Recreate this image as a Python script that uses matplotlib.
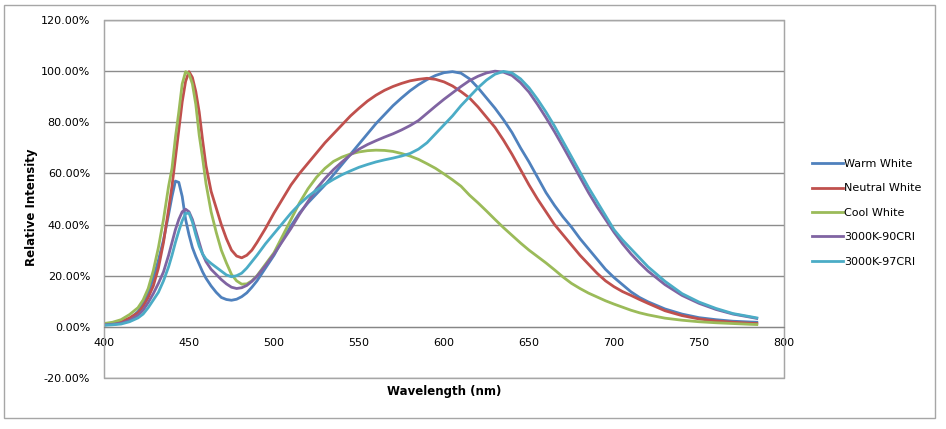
import matplotlib
matplotlib.use("Agg")
import matplotlib.pyplot as plt
from matplotlib.patches import Rectangle
from matplotlib.ticker import FuncFormatter, MultipleLocator

# wavelength grid (nm) - finer around the blue pump peak
wavelength = [400, 405, 410, 415, 420, 423, 426, 429, 432, 435, 438, 440, 442, 444, 446, 448,
              450, 452, 454, 456, 458, 460, 463, 466, 469, 472, 475, 478, 481, 484, 487, 490,
              495, 500, 505, 510, 515, 520, 525, 530, 535, 540, 545, 550, 555, 560, 565, 570,
              575, 580, 585, 590, 595, 600, 605, 610, 615, 620, 625, 630, 635, 640, 645, 650,
              655, 660, 665, 670, 675, 680, 685, 690, 695, 700, 705, 710, 715, 720,
              730, 740, 750, 760, 770, 780, 784]

# relative intensity (%)
warm_white = [0.8, 1.0, 1.5, 3.0, 6.0, 9.0, 13, 19, 26, 34, 44, 51, 57, 56.5, 51, 42,
              36, 31, 27.5, 24.5, 21.5, 19, 16, 13.5, 11.5, 10.7, 10.4, 10.8, 11.8, 13.3, 15.5, 18,
              23, 28, 34, 39.5, 44.5, 48.5, 52, 55.5, 59.5, 63.5, 67.5, 71.5, 75.5, 79.5, 83, 86.5,
              89.5, 92.3, 94.7, 96.7, 98.3, 99.4, 99.8, 99.2, 97, 93.5, 89.5, 85.5, 81, 76, 70, 64.5,
              58.5, 52.5, 47.5, 43, 39, 34.5, 30.5, 26.5, 22.5, 19.3, 16.5, 13.7, 11.5, 9.8,
              7.0, 5.0, 3.6, 2.8, 2.2, 1.9, 1.8]

neutral_white = [1.0, 1.3, 2.0, 3.5, 5.5, 8, 11.5, 16, 23, 33, 46, 55, 66, 77, 88, 96,
                 99.8, 97.5, 92, 84, 73, 63, 53, 46.5, 40, 34.5, 30, 27.7, 27, 28, 30, 33,
                 38.5, 44.5, 50, 55.5, 60, 64, 68, 72, 75.5, 79, 82.5, 85.5, 88.3, 90.6, 92.5, 94,
                 95.2, 96.2, 96.8, 97.2, 96.8, 95.8, 94.2, 92, 89.5, 86, 82, 78, 73, 67.5, 61.5, 55.5,
                 50, 45, 40, 36, 32, 28, 24.5, 21, 18, 15.7, 13.8, 12.3, 10.7, 9.2,
                 6.3, 4.4, 3.1, 2.3, 1.8, 1.4, 1.3]

cool_white = [1.3, 1.8, 2.8, 4.8, 7.5, 10.5, 15, 22, 31, 42, 55, 62, 74, 84, 95, 99.8,
              99, 95, 87, 75, 66, 56, 45, 37, 30, 25, 20.5, 18, 16.7, 16.8, 18, 20,
              24.5, 29, 35.5, 42, 48.5, 54, 58.5, 62, 64.7, 66.4, 67.6, 68.4, 68.9, 69.1, 69, 68.6,
              67.8, 66.8, 65.5, 63.8, 62, 59.8, 57.5, 55, 51.5, 48.5, 45.3, 42, 38.8, 35.8, 32.8, 30,
              27.5, 25, 22.3, 19.5, 17, 15, 13.2, 11.7, 10.2, 8.9, 7.7, 6.5, 5.5, 4.7,
              3.4, 2.6, 2.0, 1.6, 1.3, 1.0, 0.9]

cri90_3000k = [0.8, 1.0, 1.4, 2.5, 4.5, 6.5, 9.5, 13, 17, 21.5, 28, 33, 38, 42, 45, 46,
               45, 42, 37.5, 33, 28.5, 25.5, 22.5, 20.5, 18.5, 16.8, 15.5, 15, 15.3, 16.2, 17.8, 19.8,
               24, 28.5, 33.5, 38.5, 44, 49, 54, 58, 61.5, 64.5, 67.3, 69.5, 71.3, 72.8, 74.2, 75.5,
               77, 78.7, 80.7, 83.5, 86.3, 89, 91.5, 94, 96.3, 98, 99.3, 100, 99.6, 98.3, 95.5, 91.8,
               87, 81.8, 76.3, 70.5, 64.5, 58.5, 52.5, 47, 42, 37, 32.5, 28.5, 25, 21.8,
               16.5, 12.3, 9.2, 6.8, 5.0, 3.8, 3.3]

cri97_3000k = [0.6, 0.8, 1.1, 2.0, 3.5, 5, 7.5, 10.5, 13.5, 18, 23.5, 28, 33, 37.5, 41.5, 44.3,
               44.5, 41, 36, 31.5, 28.5, 26.5, 24.8, 23.3, 21.8, 20.3, 19.6, 20, 21, 23, 25.5, 28,
               32.5, 36.5, 40.5, 44.5, 48, 51, 53.5, 55.7, 57.7, 59.5, 61, 62.4, 63.5, 64.5, 65.3, 66,
               66.8, 67.8, 69.5, 72, 75.5, 79, 82.5, 86.5, 90, 93.5, 96.5, 98.8, 99.9, 99.3, 97, 93.5,
               89, 84, 78.5, 72.5, 66.5, 60.5, 54.5, 49, 43.5, 38, 34, 30.5, 27, 23.5,
               17.8, 13, 9.7, 7.2, 5.2, 4.0, 3.5]

labels = ["Warm White", "Neutral White", "Cool White", "3000K-90CRI", "3000K-97CRI"]
colors = ["#4F81BD", "#C0504D", "#9BBB59", "#8064A2", "#4BACC6"]
series = [warm_white, neutral_white, cool_white, cri90_3000k, cri97_3000k]

W, H = 946, 429
fig = plt.figure(figsize=(W / 100, H / 100), dpi=100)
ax = fig.add_axes([104 / W, 1 - 378 / H, 680 / W, 358 / H])

# chart area border
fig.patches.append(Rectangle((4 / W, 1 - 418 / H), 931 / W, 413 / H, transform=fig.transFigure,
                             fill=False, edgecolor="#a6a6a6", linewidth=1))

for ys, lab, c in zip(series, labels, colors):
    ax.plot(wavelength, ys, color=c, lw=2, label=lab, solid_joinstyle="round")

ax.set_xlim(400, 800)
ax.set_ylim(-20, 120)
ax.xaxis.set_major_locator(MultipleLocator(50))
ax.yaxis.set_major_locator(MultipleLocator(20))
ax.yaxis.set_major_formatter(FuncFormatter(lambda v, p: "%.2f%%" % v))
ax.grid(axis="y", color="#8c8c8c", lw=1)
ax.set_axisbelow(True)

# horizontal axis crosses at zero, plot area keeps a full frame
ax.spines["bottom"].set_position(("data", 0))
ax.spines["bottom"].set_color("#868686")
for s in ["left", "right", "top"]:
    ax.spines[s].set_color("#a6a6a6")
ax.add_patch(Rectangle((0, 0), 1, 1, transform=ax.transAxes, fill=False,
                       edgecolor="#a6a6a6", lw=1, clip_on=False, zorder=0.5))
ax.tick_params(axis="x", length=0, pad=8, labelsize=8)
ax.tick_params(axis="y", length=0, pad=10, labelsize=8)

fig.text(32 / W, 1 - 207 / H, "Relative Intensity", rotation=90, ha="center", va="center",
         fontsize=8.5, fontweight="bold")
fig.text(444 / W, 1 - 391 / H, "Wavelength (nm)", ha="center", va="center",
         fontsize=8.5, fontweight="bold")

fig.legend(loc="upper left", bbox_to_anchor=(802 / W, 1 - 149 / H), frameon=False,
           fontsize=8, handlelength=2.8, handletextpad=0.1, labelspacing=1.3)

fig.savefig("out.png", dpi=100)
